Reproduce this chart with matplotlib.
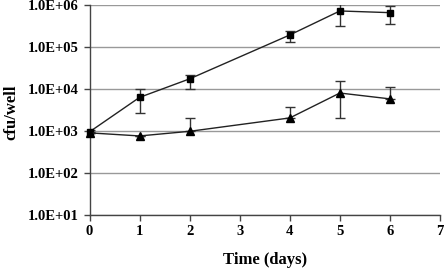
import math
import matplotlib.pyplot as plt
from matplotlib.ticker import FuncFormatter, NullLocator

days = [0, 1, 2, 4, 5, 6]

square_vals = [950, 6300, 17400, 193000, 720000, 656000]
square_lo = [950, 2700, 10000, 132000, 316000, 347000]
square_hi = [1050, 10000, 21600, 240000, 1050000, 950000]

tri_vals = [900, 760, 980, 2040, 8000, 5800]
tri_lo = [900, 760, 980, 2040, 2040, 5800]
tri_hi = [900, 760, 2040, 3700, 15500, 11200]

y_ticks = [1e1, 1e2, 1e3, 1e4, 1e5, 1e6]
x_ticks = [0, 1, 2, 3, 4, 5, 6, 7]

plt.rcParams['font.family'] = ['Liberation Serif', 'DejaVu Serif']
fig = plt.figure(figsize=(4.44, 2.7), dpi=100)
ax = fig.add_axes([0.2016, 0.204, 0.7894, 0.7776])

def draw(vals, lo, hi, marker, ms):
    err = [[v - l for v, l in zip(vals, lo)], [h - v for v, h in zip(vals, hi)]]
    ax.errorbar(days, vals, yerr=err, fmt='none', ecolor='#333333', elinewidth=1.0,
                capsize=3.3, capthick=1.0, zorder=3)
    ax.plot(days, vals, color='#222222', linewidth=1.0, marker=marker, markersize=ms,
            markerfacecolor='black', markeredgecolor='black', zorder=4, clip_on=False)

draw(square_vals, square_lo, square_hi, 's', 5)
draw(tri_vals, tri_lo, tri_hi, '^', 5.5)

ax.set_yscale('log')
ax.set_ylim(1e1, 1e6)
ax.set_xlim(0, 7)
ax.set_yticks(y_ticks)
ax.yaxis.set_minor_locator(NullLocator())
ax.yaxis.set_major_formatter(FuncFormatter(lambda v, p: '1.0E+%02d' % round(math.log10(v))))
ax.set_xticks(x_ticks)

ax.grid(True, axis='y', color='#999999', linewidth=1.0)
ax.set_axisbelow(True)
for s in ['top', 'right']:
    ax.spines[s].set_visible(False)
for s in ['left', 'bottom']:
    ax.spines[s].set_color('#444444')
    ax.spines[s].set_linewidth(1.0)
ax.tick_params(axis='both', direction='out', length=4, width=1.0, color='#444444',
               labelsize=10.5)
ax.tick_params(axis='y', pad=4)
ax.tick_params(axis='x', pad=3)
for lbl in ax.get_xticklabels() + ax.get_yticklabels():
    lbl.set_fontweight('bold')

ax.set_xlabel('Time (days)', fontsize=12, fontweight='bold')
ax.set_ylabel('cfu/well', fontsize=12, fontweight='bold')
ax.xaxis.set_label_coords(0.5, -0.175)
ax.yaxis.set_label_coords(-0.2, 0.488)

fig.savefig('out.png', dpi=100)
